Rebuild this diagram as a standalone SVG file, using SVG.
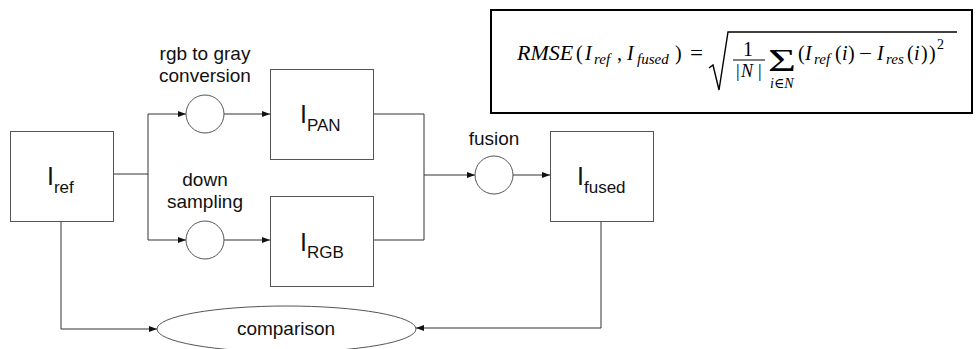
<svg xmlns="http://www.w3.org/2000/svg" width="976" height="349" viewBox="0 0 976 349">
<style>
.box{fill:#fff;stroke:#555;stroke-width:1}
.circ{fill:#fff;stroke:#555;stroke-width:1}
.conn{fill:none;stroke:#333;stroke-width:1}
.lbl{font-family:"Liberation Sans",Arial,sans-serif;font-size:19px;fill:#111;text-anchor:middle}
.nm{font-family:"Liberation Sans",Arial,sans-serif;fill:#111}
.big{font-size:25px}
.sub{font-size:17px}
.m{font-family:"Liberation Serif","DejaVu Serif",serif;font-size:20px;fill:#000}
.it{font-style:italic}
.ms{font-size:15px}
.den{font-size:18px}
.sig{font-size:32px}
.lim{font-size:14px}
.sup{font-size:14px}
.lead{font-size:22px}
</style>
<defs>
<marker id="ah" markerUnits="userSpaceOnUse" markerWidth="8" markerHeight="6" refX="8" refY="3" orient="auto">
<path d="M0,0 L8,3 L0,6 z" fill="#111"/>
</marker>
</defs>
<rect width="976" height="349" fill="#fff"/>

<g id="connectors">
<path class="conn" d="M113,174 H148"/>
<path class="conn" d="M148,114 V240"/>
<path class="conn" d="M148,114 H186" marker-end="url(#ah)"/>
<path class="conn" d="M148,240 H186" marker-end="url(#ah)"/>
<path class="conn" d="M224,114 H270" marker-end="url(#ah)"/>
<path class="conn" d="M224,240 H270" marker-end="url(#ah)"/>
<path class="conn" d="M373,114 H424 V240 H373"/>
<path class="conn" d="M424,175 H475" marker-end="url(#ah)"/>
<path class="conn" d="M513,175 H550" marker-end="url(#ah)"/>
<path class="conn" d="M601,221 V328 H416" marker-end="url(#ah)"/>
<path class="conn" d="M61,221 V329 H157" marker-end="url(#ah)"/>
</g>

<g id="n-ref">
<rect class="box" x="10.5" y="131.5" width="103" height="90"/>
<text class="nm" x="47" y="185"><tspan class="big">I</tspan><tspan class="sub" dy="8">ref</tspan></text>
</g>

<g id="n-gray">
<text class="lbl" x="205" y="60">rgb to gray</text>
<text class="lbl" x="205" y="82">conversion</text>
<circle class="circ" cx="205" cy="114" r="19"/>
</g>

<g id="n-down">
<text class="lbl" x="205" y="186">down</text>
<text class="lbl" x="205" y="208">sampling</text>
<circle class="circ" cx="205" cy="240" r="19"/>
</g>

<g id="n-pan">
<rect class="box" x="270.5" y="69.5" width="103" height="90"/>
<text class="nm" x="300" y="123"><tspan class="big">I</tspan><tspan class="sub" dy="8">PAN</tspan></text>
</g>

<g id="n-rgb">
<rect class="box" x="270.5" y="196.5" width="103" height="90"/>
<text class="nm" x="300" y="251"><tspan class="big">I</tspan><tspan class="sub" dy="7">RGB</tspan></text>
</g>

<g id="n-fusion">
<text class="lbl" x="494" y="145">fusion</text>
<circle class="circ" cx="494" cy="175" r="19"/>
</g>

<g id="n-fused">
<rect class="box" x="550.5" y="131.5" width="103" height="90"/>
<text class="nm" x="577" y="185"><tspan class="big">I</tspan><tspan class="sub" dy="8">fused</tspan></text>
</g>

<g id="n-comparison">
<ellipse class="circ" cx="286.5" cy="329" rx="129.5" ry="23"/>
<text class="lbl" x="286" y="335">comparison</text>
</g>

<g id="formula">
<rect x="491" y="10" width="481" height="103" fill="#fff" stroke="#000" stroke-width="2"/>
<text class="m it lead" x="517" y="60">RMSE</text>
<text class="m" x="576" y="60">(</text>
<text class="m it" x="585" y="60">I</text>
<text class="m it ms" x="594" y="64">ref</text>
<text class="m" x="617" y="60">,</text>
<text class="m it" x="627" y="60">I</text>
<text class="m it ms" x="637" y="64">fused</text>
<text class="m" x="675" y="60">)</text>
<text class="m" x="690" y="60" textLength="13" lengthAdjust="spacingAndGlyphs">=</text>
<path d="M709,68 L713,65 L719,90 L728,32 H957" fill="none" stroke="#000" stroke-width="1.4"/>
<text class="m" x="743" y="56">1</text>
<path d="M733,60 H765" stroke="#000" stroke-width="1"/>
<text class="m den" x="736" y="77">|</text>
<text class="m it den" x="741" y="77">N</text>
<text class="m den" x="758" y="77">|</text>
<text class="m sig" x="768" y="71" textLength="28" lengthAdjust="spacingAndGlyphs">Σ</text>
<text class="m it lim" x="770" y="88">i∈N</text>
<text class="m" x="798" y="60">(</text>
<text class="m it" x="805" y="60">I</text>
<text class="m it ms" x="814" y="64">ref</text>
<text class="m" x="835" y="60">(</text>
<text class="m it" x="842" y="60">i</text>
<text class="m" x="848" y="60">)</text>
<text class="m" x="859" y="60" textLength="13" lengthAdjust="spacingAndGlyphs">−</text>
<text class="m it" x="877" y="60">I</text>
<text class="m it ms" x="886" y="64">res</text>
<text class="m" x="907" y="60">(</text>
<text class="m it" x="914" y="60">i</text>
<text class="m" x="921" y="60">)</text>
<text class="m" x="929" y="60">)</text>
<text class="m sup" x="937" y="49">2</text>
</g>
</svg>
